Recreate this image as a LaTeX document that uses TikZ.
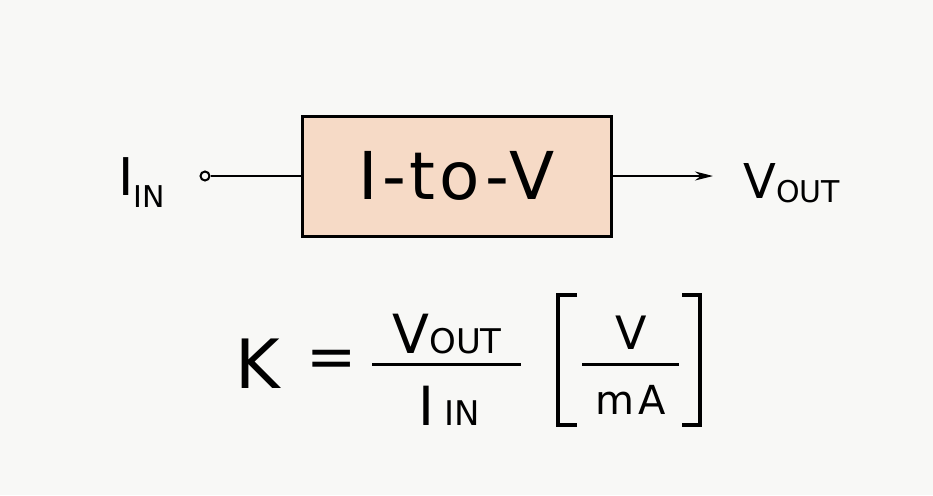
\documentclass[tikz,border=0pt]{standalone}
\usepackage{fontspec}
\setmainfont{DejaVu Sans}
\usetikzlibrary{positioning, arrows.meta}
\definecolor{peach}{RGB}{246,218,198}
\definecolor{paper}{RGB}{248,248,246}

\begin{document}
\begin{tikzpicture}[
  x=0.5pt, y=0.5pt,
  conv/.style={draw, line width=1.5pt, fill=peach, minimum width=154.5pt, minimum height=60pt, font=\fontsize{33}{36}\selectfont},
  wire/.style={line width=1pt},
  sig/.style={-{Stealth[length=9pt, width=4.5pt]}, line width=1pt},
  term/.style={circle, draw, line width=1pt, inner sep=0pt, minimum size=4.5pt},
  lbl/.style={inner sep=0pt, anchor=base west},
  txt/.style={inner sep=0pt, anchor=base},
  bar/.style={line width=1.5pt},
  brk/.style={line width=2pt}
]
\fill[paper] (0,0) rectangle (933,495);
\useasboundingbox (0,0) rectangle (933,495);

% --- Bloco conversor ---
\node[conv] (iv) at (456.5,319) {\addfontfeature{LetterSpace=6}I-to-V};

% --- Entrada e saida ---
\node[term] (in) at (205,319) {};
\coordinate (out) at (713,319);
\draw[wire] (in) -- (iv);
\draw[sig] (iv) -- (out);

% --- Rotulos ---
\node[lbl] (iin) at (118,300) {\fontsize{26}{28}\selectfont I\raisebox{-6pt}{\fontsize{15}{16}\selectfont IN}};
\node[lbl] (vout) at (743,297) {\fontsize{24}{26}\selectfont V\raisebox{-2pt}{\fontsize{15}{16}\selectfont OUT}};

% --- Ganho ---
\node[lbl] (k) at (235,107) {\fontsize{34}{36}\selectfont K};
\node[inner sep=0pt] (eq) at (332,131) {\fontsize{30}{32}\selectfont =};
\node[txt] (num) at (447,142) {\fontsize{27}{29}\selectfont V\fontsize{17}{19}\selectfont OUT};
\node[txt] (den) at (449,70) {\fontsize{27}{29}\selectfont I\hspace{5pt}\fontsize{17}{19}\selectfont IN};
\draw[bar] (372,131) -- (521,131);

\node[txt] (uv) at (631,146) {\fontsize{23}{25}\selectfont V};
\node[txt] (uma) at (631,81) {\fontsize{20}{22}\selectfont m\hspace{2pt}A};
\draw[bar] (582,131) -- (679,131);
\draw[brk] (577,200) -- (558,200) -- (558,70) -- (577,70);
\draw[brk] (682,200) -- (700,200) -- (700,70) -- (682,70);

\end{tikzpicture}
\end{document}
